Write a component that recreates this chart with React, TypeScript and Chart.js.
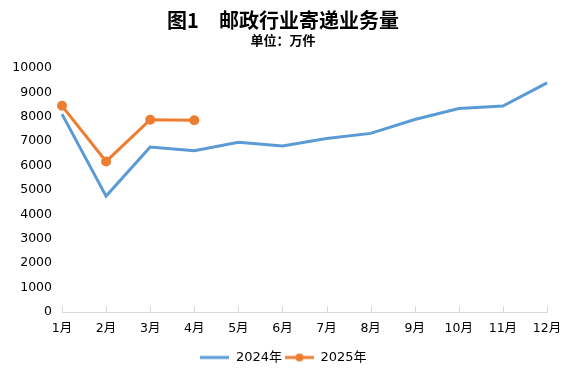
import React, { useEffect, useRef } from "react";
import { Chart, registerables } from "chart.js";

Chart.register(...registerables);

const months = ["1月", "2月", "3月", "4月", "5月", "6月", "7月", "8月", "9月", "10月", "11月", "12月"];
const values2024 = [8110, 4750, 6760, 6610, 6960, 6800, 7110, 7320, 7890, 8340, 8440, 9390];
const values2025 = [8450, 6170, 7880, 7860];
const seriesNames = ["2024年", "2025年"];
const titleText = "图1　邮政行业寄递业务量";
const subtitleText = "单位：万件";

const BLUE = "#5b9bd5";
const ORANGE = "#ed7d31";
const FONT = "'Noto Sans CJK SC', 'Noto Sans', sans-serif";
const TICK_FONT = "'DejaVu Sans', 'Noto Sans CJK SC', sans-serif";

function legendIcon(color: string, dot: boolean) {
  const c = document.createElement("canvas");
  c.width = 29;
  c.height = 10;
  const ctx = c.getContext("2d")!;
  ctx.strokeStyle = color;
  ctx.lineWidth = 3;
  ctx.beginPath();
  ctx.moveTo(0, 5);
  ctx.lineTo(29, 5);
  ctx.stroke();
  if (dot) {
    ctx.fillStyle = color;
    ctx.beginPath();
    ctx.arc(14.5, 5, 4, 0, Math.PI * 2);
    ctx.fill();
  }
  return c;
}

const decorPlugin = {
  id: "decor",
  afterDraw(chart: any) {
    const { ctx, chartArea, scales } = chart;
    ctx.save();
    ctx.fillStyle = "#000";
    ctx.textAlign = "center";
    ctx.textBaseline = "middle";
    ctx.font = `bold 20px ${FONT}`;
    ctx.fillText(titleText, 283, 20);
    ctx.font = `bold 13px ${FONT}`;
    ctx.fillText(subtitleText, 283, 40);
    const x = scales.x;
    ctx.strokeStyle = "#d9d9d9";
    ctx.lineWidth = 1;
    for (let i = 0; i < x.ticks.length; i++) {
      const px = Math.round(x.getPixelForTick(i)) + 0.5;
      ctx.beginPath();
      ctx.moveTo(px, chartArea.bottom - 6);
      ctx.lineTo(px, chartArea.bottom);
      ctx.stroke();
    }
    ctx.restore();
  },
};

export default function App() {
  const ref = useRef<HTMLCanvasElement>(null);
  useEffect(() => {
    document.body.style.margin = "0";
    const icons = [legendIcon(BLUE, false), legendIcon(ORANGE, true)];
    const chart = new Chart(ref.current!, {
      type: "line",
      data: {
        labels: months,
        datasets: [
          {
            label: seriesNames[0],
            data: values2024,
            borderColor: BLUE,
            backgroundColor: BLUE,
            borderWidth: 3,
            pointRadius: 0,
            tension: 0,
          },
          {
            label: seriesNames[1],
            data: values2025,
            borderColor: ORANGE,
            backgroundColor: ORANGE,
            borderWidth: 3,
            pointRadius: 5,
            pointBorderWidth: 0,
            pointBackgroundColor: ORANGE,
            tension: 0,
          },
        ],
      },
      options: {
        animation: false,
        responsive: false,
        layout: { padding: { top: 68, left: 0, right: 0, bottom: 4 } },
        scales: {
          x: {
            offset: false,
            grid: { display: false, drawTicks: false },
            border: { display: true, color: "#d9d9d9", width: 1 },
            ticks: { color: "#000", font: { family: TICK_FONT, size: 12.5 }, padding: 9, maxRotation: 0 },
            afterFit: (s: any) => {
              s.height = 36;
              s.paddingRight = 20;
            },
          },
          y: {
            min: 0,
            max: 10000,
            grid: { display: false, drawTicks: false },
            border: { display: false },
            ticks: {
              stepSize: 1000,
              color: "#000",
              font: { family: TICK_FONT, size: 12.5 },
              padding: 10,
              callback: (v: any) => String(v),
            },
            afterFit: (s: any) => {
              s.width = 62;
            },
          },
        },
        plugins: {
          title: { display: false },
          tooltip: { enabled: false },
          legend: {
            position: "bottom",
            labels: {
              color: "#000",
              font: { family: TICK_FONT, size: 13 },
              usePointStyle: true,
              pointStyleWidth: 29,
              boxHeight: 10,
              padding: 3,
              generateLabels: (c: any) => {
                const items = Chart.defaults.plugins.legend.labels.generateLabels(c);
                items.forEach((it: any, i: number) => {
                  it.pointStyle = icons[i];
                });
                return items;
              },
            },
          },
        },
      },
      plugins: [decorPlugin],
    });
    return () => chart.destroy();
  }, []);
  return (
    <div style={{ width: 567, height: 378 }}>
      <canvas ref={ref} width={567} height={378} style={{ width: 567, height: 378 }} />
    </div>
  );
}
